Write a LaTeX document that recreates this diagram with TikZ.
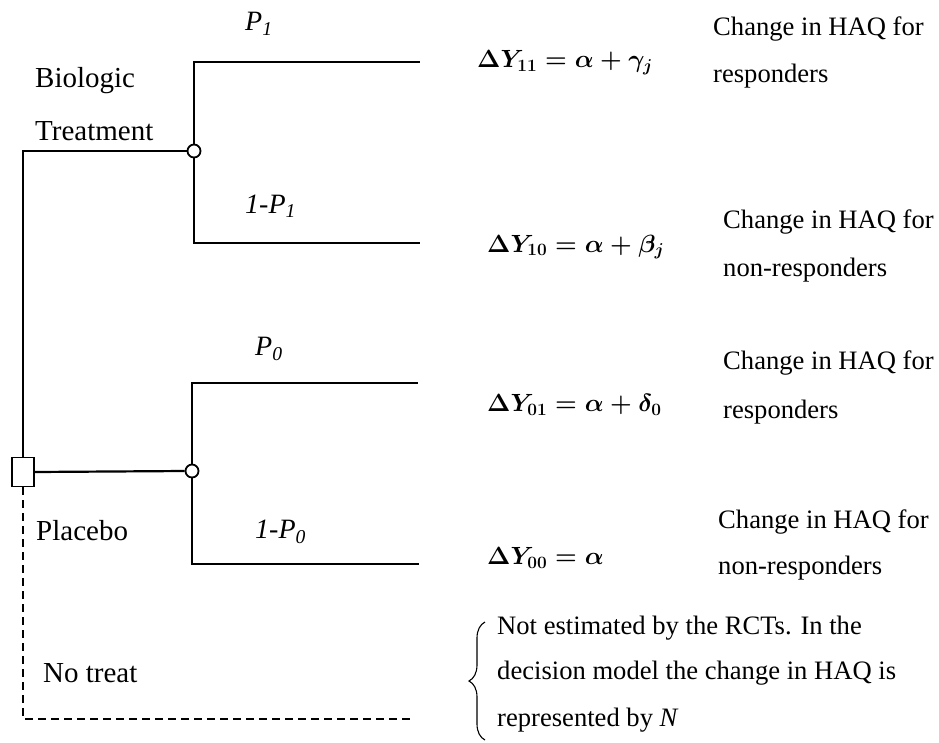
\documentclass[tikz,border=0pt]{standalone}
\usepackage{fontspec}
\setmainfont{Liberation Serif}
\usetikzlibrary{decorations.pathreplacing}
\begin{document}
\begin{tikzpicture}[x=1pt,y=-1pt,
  lbl/.style={anchor=west,inner sep=0pt,font=\fontsize{26.6}{32}\selectfont},
  left lbl/.style={anchor=west,inner sep=0pt,font=\fontsize{29}{34}\selectfont},
  prob/.style={anchor=west,inner sep=0pt,font=\fontsize{28}{34}\selectfont\itshape},
  frm/.style={anchor=west,inner sep=0pt,font=\fontsize{27}{32}\selectfont\boldmath},
  branch/.style={line width=2.2pt},
  chance/.style={circle,draw,fill=white,line width=1.8pt,minimum size=13pt,inner sep=0pt},
  decision/.style={rectangle,draw,fill=white,line width=1.8pt,minimum width=22pt,minimum height=29pt,inner sep=0pt}]
\useasboundingbox (0,0) rectangle (939,742);
% nodes
\coordinate (bio) at (23,151);
\node[decision] (sq) at (23,472) {};
\node[chance] (c1) at (194,151) {};
\node[chance] (c0) at (192,471) {};
\coordinate (c1u) at (194,62);
\coordinate (c1ue) at (420,62);
\coordinate (c1d) at (194,243);
\coordinate (c1de) at (420,243);
\coordinate (c0u) at (192,383);
\coordinate (c0ue) at (418,383);
\coordinate (c0d) at (192,564);
\coordinate (c0de) at (419,564);
\coordinate (nt) at (23,719);
\coordinate (nte) at (413,719);
% connectors
\draw[branch] (sq.north) -- (bio) -- (c1.west);
\draw[branch] (c1.north) -- (c1u) -- (c1ue);
\draw[branch] (c1.south) -- (c1d) -- (c1de);
\draw[branch] (sq.east) -- (c0.west);
\draw[branch] (c0.north) -- (c0u) -- (c0ue);
\draw[branch] (c0.south) -- (c0d) -- (c0de);
\draw[line width=1.8pt,dash pattern=on 8pt off 5pt] (sq.south) -- (nt) -- (nte);
% labels
\node[prob] (p1) at (245,24) {P\textsubscript{1}};
\node[left lbl] (bl1) at (35,81) {Biologic};
\node[left lbl] (bl2) at (35,131) {Treatment};
\node[prob] (q1) at (245,206) {1-P\textsubscript{1}};
\node[prob] (p0) at (255,349) {P\textsubscript{0}};
\node[left lbl] (pl) at (36,531) {Placebo};
\node[prob] (q0) at (255,532) {1-P\textsubscript{0}};
\node[left lbl] (nl) at (43,673) {No treat};
% formulas
\node[frm] (f11) at (477,63) {$\Delta Y_{11} = \alpha + \gamma_j$};
\node[frm] (f10) at (487,247) {$\Delta Y_{10} = \alpha + \beta_j$};
\node[frm] (f01) at (487,405) {$\Delta Y_{01} = \alpha + \delta_0$};
\node[frm] (f00) at (487,558) {$\Delta Y_{00} = \alpha$};
% outcome texts
\node[lbl] (t1a) at (713,29) {Change in HAQ for};
\node[lbl] (t1b) at (713,76) {responders};
\node[lbl] (t2a) at (723,222) {Change in HAQ for};
\node[lbl] (t2b) at (723,270) {non-responders};
\node[lbl] (t3a) at (723,363) {Change in HAQ for};
\node[lbl] (t3b) at (723,412) {responders};
\node[lbl] (t4a) at (718,522) {Change in HAQ for};
\node[lbl] (t4b) at (718,568) {non-responders};
\node[lbl] (n1) at (497,628) {Not estimated by the RCTs. In the};
\node[lbl] (n2) at (497,673) {decision model the change in HAQ is};
\node[lbl] (n3) at (497,720) {represented by \textit{N}};
\draw[line width=1.1pt,decorate,decoration={brace,amplitude=16pt}] (485,740) -- (485,622);
\end{tikzpicture}
\end{document}
